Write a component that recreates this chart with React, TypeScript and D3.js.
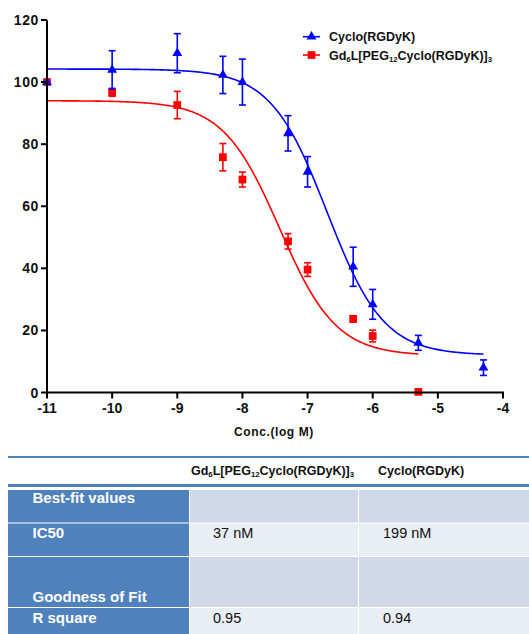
import React from 'react';
import * as d3 from 'd3';

// Cyclo(RGDyK) - blue triangles
const cycloLogConc = [-11, -10, -9, -8.3, -8, -7.3, -7, -6.3, -6, -5.3, -4.3];
const cycloMean = [100, 103.9, 109.3, 102.3, 100, 83.5, 71.1, 40.5, 28.4, 16.0, 8.0];
const cycloErr = [0, 6.2, 6.3, 6.0, 7.4, 5.7, 4.9, 6.3, 4.8, 2.4, 2.5];

// Gd6L[PEG12Cyclo(RGDyK)]3 - red squares
const gdLogConc = [-11, -10, -9, -8.3, -8, -7.3, -7, -6.3, -6, -5.3];
const gdMean = [100, 96.7, 92.6, 75.8, 68.6, 48.7, 39.6, 23.7, 18.2, 0.2];
const gdErr = [0, 1.3, 4.4, 4.4, 2.4, 2.5, 2.2, 1.0, 1.9, 0.5];

// fitted curve parameters (top, bottom, logIC50, range)
const cycloFit = { top: 104.2, bottom: 12, logIC50: -6.7, from: -11, to: -4.3 };
const gdFit = { top: 94, bottom: 11.8, logIC50: -7.43, from: -11, to: -5.3 };

const yTicks = [0, 20, 40, 60, 80, 100, 120];
const xTicks = [-11, -10, -9, -8, -7, -6, -5, -4];

const tableRows = ['Best-fit values', 'IC50', 'Goodness of Fit', 'R square'];
const gdValues = ['', '37 nM', '', '0.95'];
const cycloValues = ['', '199 nM', '', '0.94'];

const BLUE = '#0000ff';
const RED = '#ff0000';
const FONT = 'Arial, "Liberation Sans", sans-serif';

const x = d3.scaleLinear().domain([-11, -4]).range([47, 503]);
const y = d3.scaleLinear().domain([0, 120]).range([392.5, 20]);

const fitPath = (f: typeof cycloFit) => {
  const xs = d3.range(f.from, f.to + 0.001, 0.02);
  const line = d3.line<number>()
    .x(d => x(d))
    .y(d => y(f.bottom + (f.top - f.bottom) / (1 + Math.pow(10, d - f.logIC50))));
  return line(xs) || '';
};

const triangle = d3.symbol().type(d3.symbolTriangle).size(42)();
const square = d3.symbol().type(d3.symbolSquare).size(60)();

const Series = ({ xs, ms, es, color, marker }: any) => (
  <g>
    {xs.map((lx: number, i: number) => {
      const cx = x(lx);
      const cy = y(ms[i]);
      const top = y(ms[i] + es[i]);
      const bot = y(ms[i] - es[i]);
      return (
        <g key={i}>
          {es[i] > 0.8 && (
            <g stroke={color} strokeWidth={1.6}>
              <line x1={cx} x2={cx} y1={top} y2={bot} />
              <line x1={cx - 3.5} x2={cx + 3.5} y1={top} y2={top} />
              <line x1={cx - 3.5} x2={cx + 3.5} y1={bot} y2={bot} />
            </g>
          )}
          <path d={marker} transform={`translate(${cx},${cy})`} fill={color} />
        </g>
      );
    })}
  </g>
);

const GdLabel = ({ x0, y0, size }: any) => (
  <text x={x0} y={y0} fontFamily={FONT} fontWeight="bold" fontSize={size} fill="#111">
    Gd<tspan fontSize={size * 0.62} dy={2}>6</tspan>
    <tspan dy={-2}>L[PEG</tspan>
    <tspan fontSize={size * 0.62} dy={2}>12</tspan>
    <tspan dy={-2}>Cyclo(RGDyK)]</tspan>
    <tspan fontSize={size * 0.62} dy={2}>3</tspan>
  </text>
);

const App = () => {
  const rowY = [490, 523.5, 557, 608];
  const rowH = [32.5, 32.5, 50, 30];
  const rowFill = ['#d0d8e8', '#e9edf4', '#d0d8e8', '#e9edf4'];
  const textY = [503, 538, 602, 623];
  return (
    <svg width={529} height={634} style={{ position: 'absolute', left: 0, top: 0 }}>
      <rect width={529} height={634} fill="#fff" />

      {/* curves */}
      <path d={fitPath(gdFit)} fill="none" stroke={RED} strokeWidth={1.6} />
      <path d={fitPath(cycloFit)} fill="none" stroke={BLUE} strokeWidth={1.6} />

      <Series xs={gdLogConc} ms={gdMean} es={gdErr} color={RED} marker={square} />
      <Series xs={cycloLogConc} ms={cycloMean} es={cycloErr} color={BLUE} marker={triangle} />

      {/* y axis */}
      <g fontFamily={FONT} fontWeight="bold" fontSize={14} fill="#111">
        <line x1={47} x2={47} y1={y(120)} y2={y(0) + 1} stroke="#000" strokeWidth={2} />
        {yTicks.map(t => (
          <g key={t}>
            <line x1={41} x2={47} y1={y(t)} y2={y(t)} stroke="#000" strokeWidth={2} />
            <text x={39} y={y(t) + 5} textAnchor="end" letterSpacing={0.6}>{t}</text>
          </g>
        ))}
      </g>

      {/* x axis */}
      <g fontFamily={FONT} fontWeight="bold" fontSize={14} fill="#111">
        <line x1={46} x2={x(-4) + 1} y1={y(0)} y2={y(0)} stroke="#000" strokeWidth={2} />
        {xTicks.map(t => (
          <g key={t}>
            <line x1={x(t)} x2={x(t)} y1={y(0)} y2={y(0) + 6} stroke="#000" strokeWidth={2} />
            <text x={x(t)} y={413} textAnchor="middle">{t}</text>
          </g>
        ))}
        <text x={274} y={436} textAnchor="middle" fontSize={12} letterSpacing={0.6}>Conc.(log M)</text>
      </g>

      {/* legend */}
      <line x1={303} x2={320} y1={36.7} y2={36.7} stroke={BLUE} strokeWidth={1.6} />
      <path d={triangle} transform="translate(311.5,36.7)" fill={BLUE} />
      <text x={329} y={41} fontFamily={FONT} fontWeight="bold" fontSize={12.5} fill="#111">Cyclo(RGDyK)</text>
      <line x1={303} x2={320} y1={55} y2={55} stroke={RED} strokeWidth={1.6} />
      <path d={square} transform="translate(311.5,55)" fill={RED} />
      <GdLabel x0={329} y0={59.5} size={12.5} />

      {/* table */}
      <rect x={8} y={456} width={521} height={2} fill="#4f81bd" />
      <rect x={8} y={484} width={521} height={3} fill="#4f81bd" />
      <GdLabel x0={191} y0={475} size={12.5} />
      <text x={378} y={475} fontFamily={FONT} fontWeight="bold" fontSize={12.5} fill="#111">Cyclo(RGDyK)</text>
      {tableRows.map((r, i) => (
        <g key={r}>
          <rect x={8} y={rowY[i]} width={181} height={rowH[i]} fill="#4f81bd" />
          <rect x={190} y={rowY[i]} width={168} height={rowH[i]} fill={rowFill[i]} />
          <rect x={359} y={rowY[i]} width={170} height={rowH[i]} fill={rowFill[i]} />
          <text x={32.5} y={textY[i]} fontFamily={FONT} fontWeight="bold" fontSize={15} fill="#fff">{r}</text>
          <text x={213} y={textY[i]} fontFamily={FONT} fontSize={14.5} fill="#111">{gdValues[i]}</text>
          <text x={383} y={textY[i]} fontFamily={FONT} fontSize={14.5} fill="#111">{cycloValues[i]}</text>
        </g>
      ))}
    </svg>
  );
};

export default App;
